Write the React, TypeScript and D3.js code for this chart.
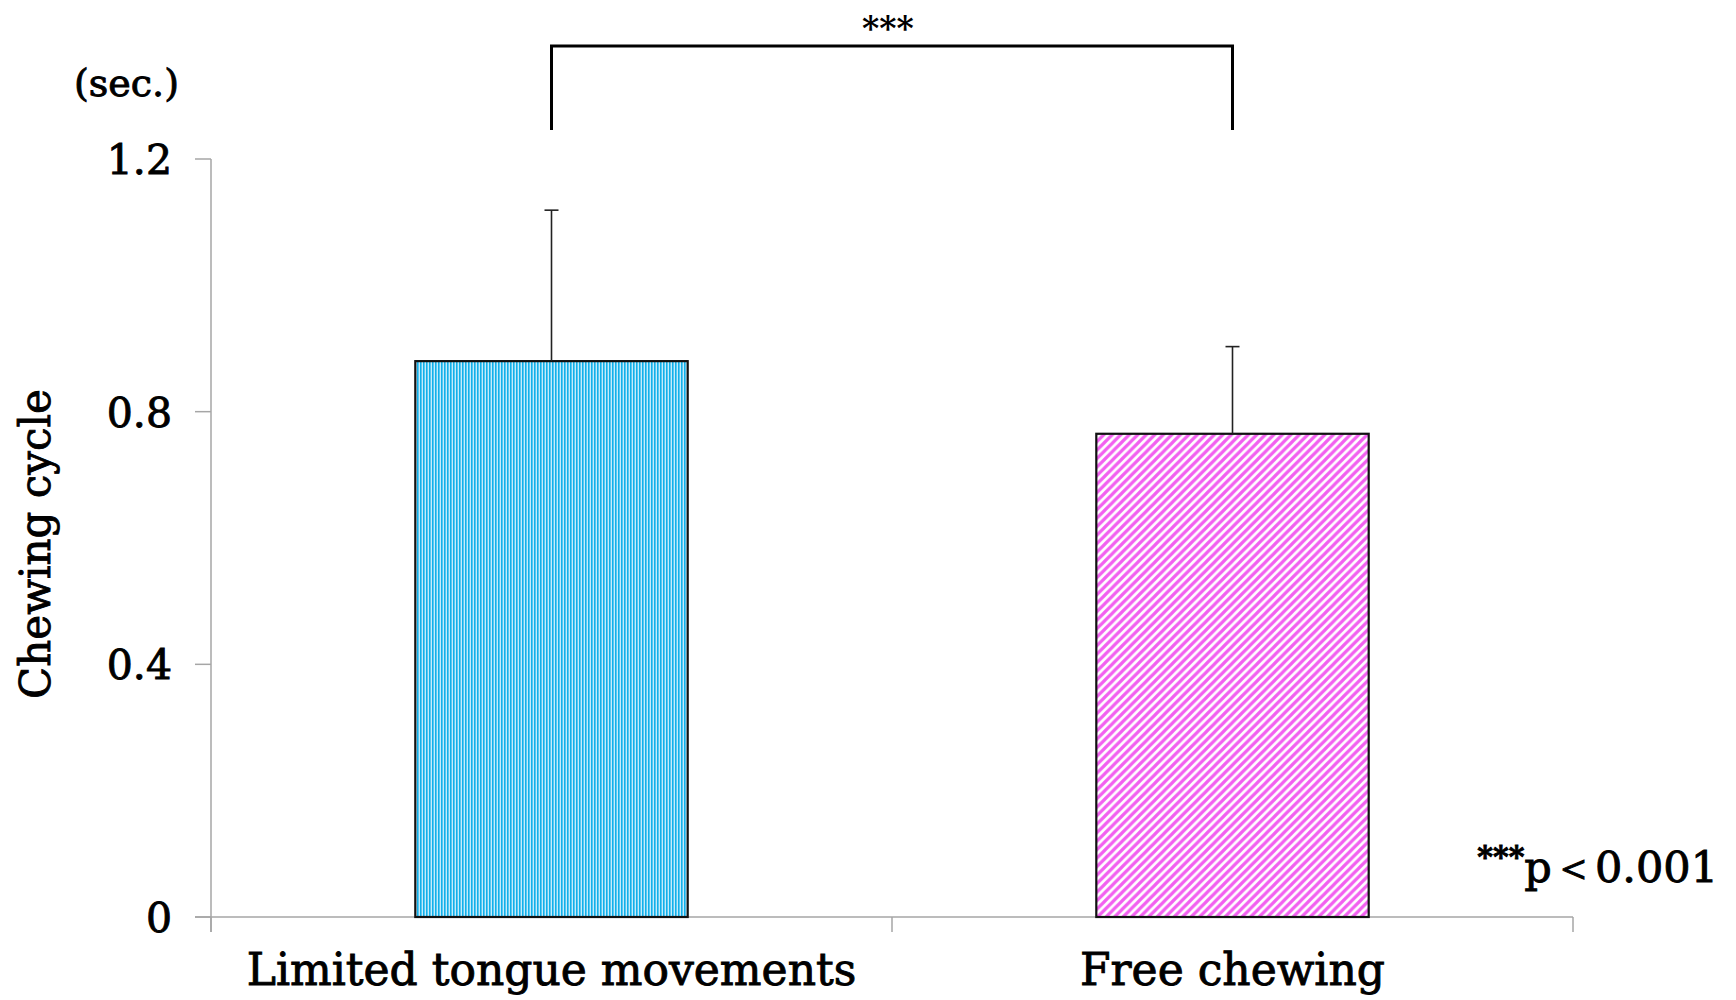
import React from "react";
import * as d3 from "d3";

const categories = ["Limited tongue movements", "Free chewing"];
const means = [0.88, 0.765];
const sds = [0.239, 0.138];
const yTicks = [0, 0.4, 0.8, 1.2];
const yTickLabels = ["0", "0.4", "0.8", "1.2"];

const W = 1736;
const H = 1000;
const X0 = 211;
const X1 = 1573;
const Y0 = 917;
const Y1 = 159;
const FONT = "'DejaVu Serif', serif";
const TS = { stroke: "#000", strokeWidth: 0.9 };

export default function App() {
  const x = d3.scaleBand<string>().domain(categories).range([X0, X1]).paddingInner(0.6).paddingOuter(0.3);
  const xb = d3.scaleBand<string>().domain(categories).range([X0, X1]).padding(0);
  const y = d3.scaleLinear().domain([0, 1.2]).range([Y0, Y1]);
  const fills = ["url(#vstripe)", "url(#dstripe)"];
  const centers = categories.map((c) => (x(c) as number) + x.bandwidth() / 2);

  return (
    <svg width={W} height={H} style={{ position: "absolute", left: 0, top: 0, background: "#fff" }}>
      <defs>
        <pattern id="vstripe" patternUnits="userSpaceOnUse" width={3} height={10}>
          <rect width={3} height={10} fill="#c4ebfb" />
          <rect x={0} width={1.6} height={10} fill="#12b0ea" />
        </pattern>
        <pattern id="dstripe" patternUnits="userSpaceOnUse" width={8.5} height={8.5}>
          <rect width={8.5} height={8.5} fill="#ffffff" />
          <path d="M-2,2 L2,-2 M0,8.5 L8.5,0 M6.5,10.5 L10.5,6.5" stroke="#f25ff0" strokeWidth={3.2} />
        </pattern>
      </defs>

      {/* axes */}
      <line x1={X0} x2={X0} y1={Y1} y2={Y0 + 15} stroke="#a6a6a6" strokeWidth={1.5} />
      <line x1={X0 - 16} x2={X1} y1={Y0} y2={Y0} stroke="#a6a6a6" strokeWidth={1.5} />
      {yTicks.map((t, i) => (
        <g key={t}>
          <line x1={X0 - 16} x2={X0} y1={y(t)} y2={y(t)} stroke="#a6a6a6" strokeWidth={1.5} />
          <text x={172} y={y(t) + 15} textAnchor="end" fontFamily={FONT} fontSize={41} fill="#000" {...TS}>
            {yTickLabels[i]}
          </text>
        </g>
      ))}
      {[X0, ...categories.map((c) => (xb(c) as number) + xb.bandwidth())].map((xx, i) => (
        <line key={i} x1={xx} x2={xx} y1={Y0} y2={Y0 + 15} stroke="#a6a6a6" strokeWidth={1.5} />
      ))}

      {/* bars */}
      {categories.map((c, i) => (
        <rect
          key={c}
          x={x(c)}
          y={y(means[i])}
          width={x.bandwidth()}
          height={Y0 - y(means[i])}
          fill={fills[i]}
          stroke="#111"
          strokeWidth={2.2}
        />
      ))}

      {/* error bars */}
      {categories.map((c, i) => (
        <g key={c} stroke="#222" strokeWidth={1.6}>
          <line x1={centers[i]} x2={centers[i]} y1={y(means[i])} y2={y(means[i] + sds[i])} />
          <line x1={centers[i] - 7} x2={centers[i] + 7} y1={y(means[i] + sds[i])} y2={y(means[i] + sds[i])} />
        </g>
      ))}

      {/* significance bracket */}
      <path
        d={`M${centers[0]},130 L${centers[0]},46 L${centers[1]},46 L${centers[1]},130`}
        fill="none"
        stroke="#000"
        strokeWidth={3}
      />
      <text x={(centers[0] + centers[1]) / 2 - 4} y={40} textAnchor="middle" fontFamily={FONT} fontWeight="bold" fontSize={33}>
        ***
      </text>

      {/* category labels */}
      {categories.map((c, i) => (
        <text key={c} x={centers[i]} y={985} textAnchor="middle" fontFamily={FONT} fontSize={44} fill="#000" {...TS}>
          {c}
        </text>
      ))}

      {/* y axis title */}
      <text
        transform={`translate(50,${544}) rotate(-90)`}
        textAnchor="middle"
        fontFamily={FONT}
        fontSize={42}
        fill="#000"
        {...TS}
      >
        Chewing cycle
      </text>
      <text x={74} y={96} fontFamily={FONT} fontSize={38} fill="#000" {...TS}>
        (sec.)
      </text>

      {/* p note */}
      <text x={1718} y={882} textAnchor="end" fontFamily={FONT} fontSize={43} fill="#000" {...TS}>
        <tspan fontSize={30} fontWeight="bold" dy={-15}>***</tspan>
        <tspan dy={15}>p＜0.001</tspan>
      </text>
    </svg>
  );
}
